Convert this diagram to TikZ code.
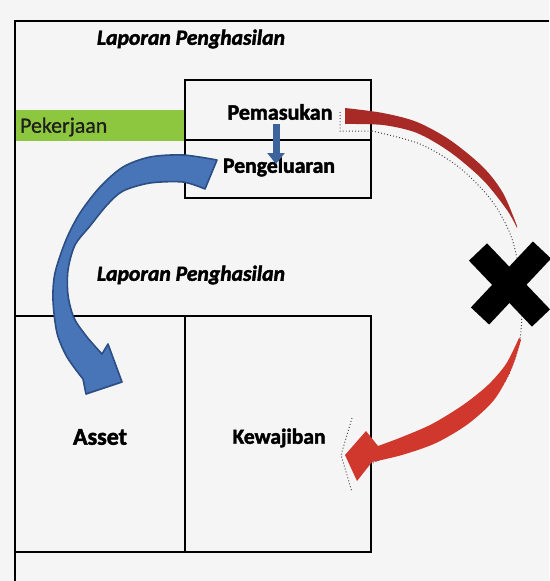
\documentclass[tikz,border=0pt]{standalone}
\usepackage{fontspec}
\setmainfont{Carlito}[BoldFeatures={FakeBold=2},BoldItalicFeatures={FakeBold=2}]
\newfontfamily\pekfont{Carlito}[FakeBold=0.8]
\usetikzlibrary{arrows.meta}
\definecolor{bgc}{RGB}{245,245,245}
\definecolor{greenbar}{RGB}{141,198,63}
\definecolor{bluefill}{RGB}{72,116,184}
\definecolor{blueline}{RGB}{44,78,132}
\definecolor{redtop}{RGB}{168,42,38}
\definecolor{redbot}{RGB}{208,56,46}
\newcommand{\fitw}[2]{\resizebox{#1}{!}{#2}}
\tikzset{
  frameline/.style={draw=black, line width=2pt},
  lbl/.style={inner sep=0pt, text=black},
  shadowdots/.style={draw=black!75, dash pattern=on 0.9pt off 2.2pt, line width=1pt},
}
\begin{document}
\begin{tikzpicture}[x=1pt,y=-1pt]
\useasboundingbox (0,0) rectangle (549,581);
\fill[bgc] (0,0) rectangle (549,581);
% green bar
\fill[greenbar] (15,110) rectangle (185,141);
% outer frame
\draw[frameline] (549,21) -- (15,21) -- (15,581);
% top box
\draw[frameline] (185,80) rectangle (371,198);
\draw[frameline] (185,140) -- (371,140);
% lower boxes
\draw[frameline] (15,316) -- (371,316) -- (371,552) -- (15,552);
\draw[frameline] (185,316) -- (185,552);
% texts
\node[lbl] (lap1) at (191,39) {\fitw{188pt}{\bfseries\itshape Laporan Penghasilan}};
\node[lbl] (lap2) at (191,275) {\fitw{188pt}{\bfseries\itshape Laporan Penghasilan}};
\node[lbl, anchor=west, text={rgb,255:red,30;green,30;blue,30}] (pek) at (20,127) {\fitw{87pt}{\pekfont Pekerjaan}};
\node[lbl] (pem) at (280,112) {\fitw{105pt}{\bfseries Pemasukan}};
\node[lbl] (peng) at (279,167) {\fitw{112pt}{\bfseries Pengeluaran}};
\node[lbl] (asset) at (100,437) {\fitw{54pt}{\bfseries Asset}};
\node[lbl] (kew) at (279,438) {\fitw{93pt}{\bfseries Kewajiban}};
% small arrow
\coordinate (s1) at (276,124);
\coordinate (s2) at (276,164);
\draw[bluefill!85!black, line width=7pt, -{Triangle[width=17pt,length=11pt]}] (s1) -- (s2);
% blue curved arrow
\filldraw[fill=bluefill, draw=blueline, line width=1.6pt, line join=round]
  plot[smooth] coordinates {(217,160) (183,155) (150,157) (123,167) (100,187) (80,213) (66,240) (55,273) (53,300) (57,333) (67,357) (83,379)}
  -- (86,394) -- (122,382) -- (108,344) -- (102,354)
  -- plot[smooth] coordinates {(102,354) (87,337) (74,318) (68,295) (68,270) (75,245) (90,226) (107,205) (123,191) (150,183) (183,182) (205,189)}
  -- cycle;
% dotted shadows of red arrows
\draw[shadowdots]
  (340,112) -- (340,131) -- (372,131)
  plot[smooth] coordinates {(372,131) (420,144) (460,168) (492,201) (511,236) (520,275) (522,310) (519,345) (507,378) (487,404) (457,427) (420,446) (385,458) (368,465)};
\draw[shadowdots]
  (352,418) -- (341,455) -- (352,492);
% red top arrow
\fill[redtop]
  plot[smooth] coordinates {(345,108) (383,113) (417,122) (450,140) (483,167) (503,193) (517,226)}
  -- plot[smooth] coordinates {(517,228) (507,210) (483,180) (450,152) (417,133) (383,125) (345,124)}
  -- cycle;
% red bottom arrow
\fill[redbot]
  plot[smooth] coordinates {(519,338) (506,364) (488,385) (463,405) (432,424) (402,437) (378,446)}
  -- (366,431) -- (345,455) -- (357,481) -- (372,462)
  -- plot[smooth] coordinates {(372,462) (402,455) (436,443) (468,424) (494,400) (511,370) (521,340)}
  -- cycle;
% X mark
\draw[black, line width=25pt] (478,252) -- (541,318);
\draw[black, line width=25pt] (542,250) -- (480,316);
\end{tikzpicture}
\end{document}
